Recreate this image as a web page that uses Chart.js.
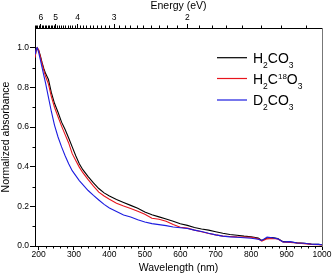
<!DOCTYPE html>
<html><head><meta charset="utf-8">
<script src="https://cdn.jsdelivr.net/npm/chart.js@4/dist/chart.umd.min.js"></script>
<style>html,body{margin:0;padding:0;background:#fff}#wrap{width:332px;height:276px}</style>
</head><body><div id="wrap"><canvas id="c" width="332" height="276"></canvas></div>
<script>
const wavelengths = [190,193,196,200,205,210,215,220,228,236,245,255,265,275,285,295,305,315,325,340,355,370,385,400,420,440,460,480,500,520,540,560,580,600,620,640,660,680,700,720,740,760,780,800,820,830,845,860,875,890,910,930,950,970,990,1000];
const h2co3 = [0.95,0.985,1.0,0.99,0.96, 0.925,0.895,0.87,0.84,0.775, 0.72,0.675,0.625,0.588,0.545, 0.50,0.455,0.415,0.385,0.35, 0.318,0.29,0.268,0.252,0.235, 0.22,0.205,0.19,0.172,0.158, 0.147,0.136,0.125,0.112,0.104, 0.093,0.086,0.08,0.072,0.064, 0.058,0.054,0.05,0.047,0.04, 0.028,0.04,0.042,0.038,0.022, 0.02,0.016,0.014,0.01,0.008, 0.006];
const h2c18o3 = [0.95,0.985,1.0,0.99,0.955, 0.92,0.885,0.855,0.817,0.755, 0.70,0.652,0.605,0.562,0.52, 0.466,0.432,0.398,0.37,0.335, 0.302,0.272,0.252,0.236,0.216, 0.202,0.189,0.175,0.16,0.14, 0.135,0.125,0.108,0.095,0.09, 0.08,0.072,0.063,0.056,0.05, 0.048,0.046,0.045,0.044,0.036, 0.025,0.036,0.038,0.035,0.02, 0.018,0.015,0.012,0.008,0.006, 0.005];
const d2co3 = [0.965,0.99,1.0,0.98,0.94, 0.9,0.86,0.82,0.75,0.68, 0.61,0.55,0.5,0.455,0.415, 0.38,0.355,0.33,0.31,0.28, 0.255,0.232,0.21,0.192,0.174, 0.156,0.146,0.132,0.121,0.113, 0.108,0.103,0.096,0.092,0.088, 0.08,0.073,0.064,0.056,0.05, 0.046,0.044,0.042,0.039,0.034, 0.028,0.045,0.042,0.036,0.02, 0.022,0.015,0.014,0.009,0.008, 0.006];
const seriesNames = ['H2CO3','H2C18O3','D2CO3'];
const wavelengthTicks = [200,300,400,500,600,700,800,900,1000];
const energyTicks = [6,5,4,3,2];
const yTicks = [0,0.2,0.4,0.6,0.8,1.0];
const HC = 1239.84;

const FONT = '"Liberation Sans", Arial, sans-serif';
const colors = ['#000000','#e8141c','#1c1ce0'];
const legendParts = [
  [['H',0],['2',1],['CO',0],['3',1]],
  [['H',0],['2',1],['C',0],['18',2],['O',0],['3',1]],
  [['D',0],['2',1],['CO',0],['3',1]]
];

function pts(arr){ return wavelengths.map((w,i)=>({x:w,y:arr[i]})); }

const minorTicks = {
  id:'minorTicks',
  afterDraw(chart){
    const ctx = chart.ctx, a = chart.chartArea;
    const sx = chart.scales.x, sy = chart.scales.y;
    ctx.save(); ctx.strokeStyle='#000'; ctx.lineWidth=1; ctx.beginPath();
    for(let v=200; v<=1000; v+=20){ if(v%100===0) continue; const p=Math.round(sx.getPixelForValue(v))+0.5; ctx.moveTo(p,a.bottom); ctx.lineTo(p,a.bottom+2.5); }
    for(let k=65; k>=13; k--){ if(k%10===0) continue; const lam=HC/(k/10); if(lam<190||lam>1000) continue; const p=Math.round(sx.getPixelForValue(lam))+0.5; ctx.moveTo(p,a.top); ctx.lineTo(p,a.top-2.5); }
    for(let k=1; k<=9; k+=2){ const p=Math.round(sy.getPixelForValue(k/10))+0.5; ctx.moveTo(a.left,p); ctx.lineTo(a.left-2.5,p); }
    ctx.stroke(); ctx.restore();
  }
};

const richLegend = {
  id:'richLegend',
  afterDraw(chart){
    const ctx = chart.ctx;
    const x0=217, x1=247, tx=253, ys=[57.7,78.5,100];
    ctx.save();
    legendParts.forEach((parts,i)=>{
      const y = ys[i];
      ctx.strokeStyle = colors[i]; ctx.lineWidth=1.2;
      ctx.beginPath(); ctx.moveTo(x0,y); ctx.lineTo(x1,y); ctx.stroke();
      let x = tx; const base = y+5;
      ctx.fillStyle='#000'; ctx.textBaseline='alphabetic'; ctx.textAlign='left';
      parts.forEach(([t,k])=>{
        if(k===0){ ctx.font='14px '+FONT; ctx.fillText(t,x,base); }
        else if(k===1){ ctx.font='8.5px '+FONT; ctx.fillText(t,x,base+5); }
        else { ctx.font='8px '+FONT; ctx.fillText(t,x,base-4.5); }
        x += ctx.measureText(t).width;
      });
    });
    ctx.restore();
  }
};

const tickFont = {family:FONT,size:8.5};
const titleFont = {family:FONT,size:10.5};

new Chart(document.getElementById('c'),{
  type:'line',
  data:{datasets:[
    {label:seriesNames[0],data:pts(h2co3),borderColor:colors[0],borderWidth:1.1,pointRadius:0,tension:0,order:2},
    {label:seriesNames[1],data:pts(h2c18o3),borderColor:colors[1],borderWidth:1.1,pointRadius:0,tension:0,order:1},
    {label:seriesNames[2],data:pts(d2co3),borderColor:colors[2],borderWidth:1.1,pointRadius:0,tension:0,order:0}
  ]},
  options:{
    responsive:false, animation:false, devicePixelRatio:1,
    layout:{padding:0},
    plugins:{legend:{display:false},tooltip:{enabled:false}},
    scales:{
      x:{type:'linear',position:'bottom',min:190,max:1000,
        afterBuildTicks:s=>{s.ticks=wavelengthTicks.map(v=>({value:v}));},
        afterFit:s=>{s.height=30;},
        ticks:{font:tickFont,color:'#000',padding:0,maxRotation:0,autoSkip:false,callback:v=>String(v)},
        grid:{drawOnChartArea:false,tickLength:4,tickColor:'#000'},
        border:{color:'#000',width:1},
        title:{display:true,text:'Wavelength (nm)',font:titleFont,color:'#000',padding:{top:0,bottom:2}}},
      x2:{type:'linear',position:'top',min:190,max:1000,
        afterBuildTicks:s=>{s.ticks=energyTicks.map(e=>({value:HC/e}));},
        afterFit:s=>{s.height=28;},
        ticks:{font:tickFont,color:'#000',padding:1,maxRotation:0,autoSkip:false,callback:v=>String(Math.round(HC/v))},
        grid:{drawOnChartArea:false,tickLength:4,tickColor:'#000'},
        border:{color:'#000',width:1},
        title:{display:true,text:'Energy (eV)',font:titleFont,color:'#000',padding:{top:0,bottom:0}}},
      y:{type:'linear',position:'left',min:0,max:1.1,
        afterBuildTicks:s=>{s.ticks=yTicks.map(v=>({value:v}));},
        afterFit:s=>{s.width=35;},
        ticks:{font:tickFont,color:'#000',padding:1,callback:v=>v.toFixed(1)},
        grid:{drawOnChartArea:false,tickLength:5,tickColor:'#000'},
        border:{color:'#000',width:1},
        title:{display:true,text:'Normalized absorbance',font:titleFont,color:'#000',padding:{top:0,bottom:0}}},
      y2:{type:'linear',position:'right',min:0,max:1.1,
        afterFit:s=>{s.width=10;},
        ticks:{display:false},
        grid:{drawOnChartArea:false,drawTicks:false},
        border:{color:'#777',width:1}}
    }
  },
  plugins:[minorTicks,richLegend]
});
</script></body></html>
